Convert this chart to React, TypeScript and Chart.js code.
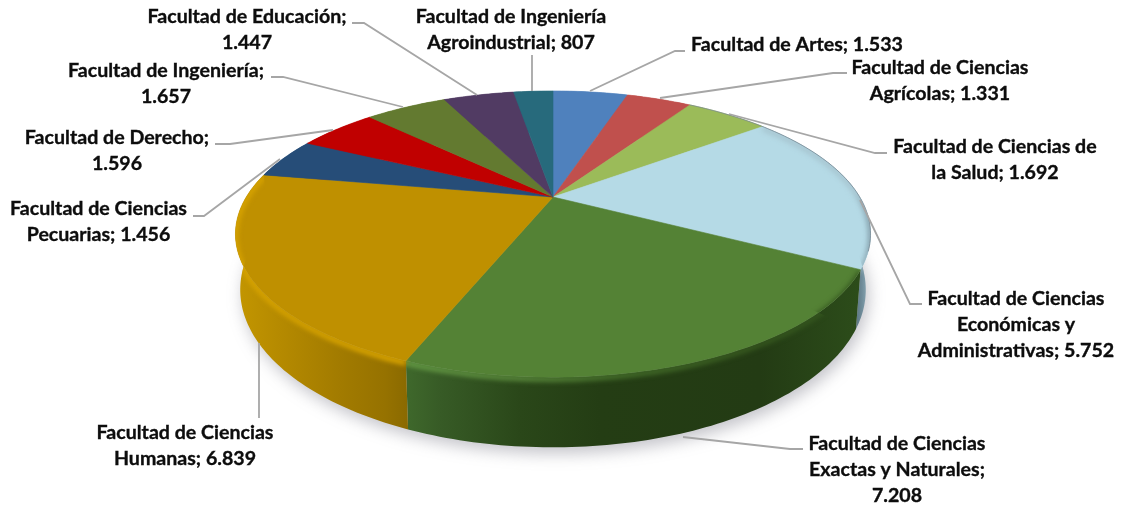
import React, { useEffect, useRef } from "react";
import { Chart, registerables } from "chart.js";

Chart.register(...registerables);

const categories = [
  "Facultad de Artes",
  "Facultad de Ciencias Agrícolas",
  "Facultad de Ciencias de la Salud",
  "Facultad de Ciencias Económicas y Administrativas",
  "Facultad de Ciencias Exactas y Naturales",
  "Facultad de Ciencias Humanas",
  "Facultad de Ciencias Pecuarias",
  "Facultad de Derecho",
  "Facultad de Ingeniería",
  "Facultad de Educación",
  "Facultad de Ingeniería Agroindustrial",
];
const values = [1533, 1331, 1692, 5752, 7208, 6839, 1456, 1596, 1657, 1447, 807];
const colors = [
  "#4F81BD", "#C0504D", "#9BBB59", "#B5DAE6", "#548235", "#BF9000",
  "#264D78", "#C00000", "#637A30", "#513B63", "#276A7C",
];

// Word counts per line of every data label.
const labelWraps = [[5], [3, 2], [4, 3], [3, 2, 2], [3, 3, 1], [3, 2], [3, 2], [3, 1], [3, 1], [3, 1], [3, 2]];
// Label centre and first-line middle.
const labelAnchors = [
  [797, 45], [940, 68], [995, 147], [1016, 299], [897, 444], [185, 433],
  [98.5, 209], [117, 138], [166, 71], [247, 17], [511, 17],
];
// Leader-line polylines.
const leaderPaths = [
  [[685, 51], [675, 51], [590, 91]],
  [[847, 73], [833, 73], [660, 98]],
  [[887, 153], [875, 153], [729, 114]],
  [[922, 304], [910, 304], [860, 200]],
  [[803, 449], [790, 449], [683, 437]],
  [[259, 418], [259, 343]],
  [[193, 216], [204, 216], [280, 159]],
  [[215, 144], [230, 144], [333, 130]],
  [[271, 77], [283, 77], [403, 107]],
  [[352, 23], [364, 23], [477, 95]],
  [[532, 55], [532, 91]],
];
// Wall shading: [x, colour] stops for each slice that faces the viewer.
const wallStops: Record<number, [number, string][]> = {
  3: [[852, "#4E6672"], [862, "#6F8C9A"], [871, "#9AB8C4"]],
  4: [[410, "#3E672B"], [440, "#375B26"], [520, "#2A4719"], [600, "#243D14"], [760, "#233B14"], [858, "#2C4C1A"]],
  5: [[240, "#C29500"], [280, "#B58A00"], [340, "#A27B00"], [385, "#967200"], [412, "#886800"]],
};
const rimStops: Record<number, [number, string][]> = {
  3: [[855, "#A6C4CF"], [871, "#7F9AA6"]],
  4: [[410, "#689F47"], [520, "#5E8F3F"], [620, "#47722C"], [760, "#37591F"], [858, "#34561F"]],
  5: [[236, "#D9A500"], [300, "#D8A400"], [412, "#E6AE00"]],
};

const view = { cx: 553, cy: 197, radius: 306.7, tilt: 133.5, persp: 0.259, depth: 52, shrink: 0.985 };

function top(theta: number) {
  const x = Math.sin(theta), y = Math.cos(theta);
  const s = 1 / (1 + view.persp * y);
  return { x: view.cx + view.radius * x * s, y: view.cy - view.tilt * y * s, s };
}
function bottom(theta: number) {
  const p = top(theta);
  return { x: view.cx + (p.x - view.cx) * view.shrink, y: p.y + view.depth * p.s };
}
function samples(a: number, b: number) {
  const n = Math.max(2, Math.ceil(Math.abs(b - a) / (Math.PI / 180)));
  const out: number[] = [];
  for (let i = 0; i <= n; i++) out.push(a + ((b - a) * i) / n);
  return out;
}
function grad(ctx: CanvasRenderingContext2D, stops: [number, string][]) {
  const x0 = stops[0][0], x1 = stops[stops.length - 1][0];
  const g = ctx.createLinearGradient(x0, 0, x1, 0);
  stops.forEach(([x, c]) => g.addColorStop((x - x0) / (x1 - x0), c));
  return g;
}

const pie3d = {
  id: "pie3d",
  beforeDatasetsDraw(chart: any) {
    const ctx: CanvasRenderingContext2D = chart.ctx;
    const arcs = chart.getDatasetMeta(0).data;
    const angles = arcs.map((a: any) => [a.startAngle + Math.PI / 2, a.endAngle + Math.PI / 2]);
    const full = samples(0, Math.PI * 2);

    // soft shadow beneath the disc
    ctx.save();
    ctx.filter = "blur(8px)";
    ctx.fillStyle = "rgba(90,90,105,0.36)";
    ctx.beginPath();
    full.forEach((t, i) => {
      const p = bottom(t);
      const px = p.x + 3, py = p.y + 6;
      i ? ctx.lineTo(px, py) : ctx.moveTo(px, py);
    });
    ctx.closePath();
    ctx.fill();
    ctx.restore();

    // walls
    angles.forEach(([a, b]: number[], i: number) => {
      ctx.beginPath();
      const ts = samples(a, b);
      ts.forEach((t, k) => {
        const p = top(t);
        k ? ctx.lineTo(p.x, p.y) : ctx.moveTo(p.x, p.y);
      });
      ts.slice().reverse().forEach((t) => {
        const p = bottom(t);
        ctx.lineTo(p.x, p.y);
      });
      ctx.closePath();
      ctx.fillStyle = wallStops[i] ? grad(ctx, wallStops[i]) : colors[i];
      ctx.fill();
    });

    // top face
    angles.forEach(([a, b]: number[], i: number) => {
      ctx.beginPath();
      ctx.moveTo(view.cx, view.cy);
      samples(a, b).forEach((t) => {
        const p = top(t);
        ctx.lineTo(p.x, p.y);
      });
      ctx.closePath();
      ctx.fillStyle = colors[i];
      ctx.fill();
      ctx.strokeStyle = colors[i];
      ctx.lineWidth = 0.6;
      ctx.stroke();
    });

    // bevel along the front rim
    angles.forEach(([a, b]: number[], i: number) => {
      if (!rimStops[i]) return;
      const ts = samples(a, b);
      ctx.save();
      ctx.beginPath();
      ctx.moveTo(view.cx, view.cy);
      ts.forEach((t) => {
        const p = top(t);
        ctx.lineTo(p.x, p.y);
      });
      ts.slice().reverse().forEach((t) => {
        const p = bottom(t);
        ctx.lineTo(p.x, p.y);
      });
      ctx.closePath();
      ctx.clip();
      ctx.filter = "blur(2.6px)";
      ctx.strokeStyle = grad(ctx, rimStops[i]);
      ctx.lineWidth = 5;
      ctx.beginPath();
      ts.forEach((t, k) => {
        const p = top(t);
        const py = p.y + 2;
        k ? ctx.lineTo(p.x, py) : ctx.moveTo(p.x, py);
      });
      ctx.stroke();
      ctx.restore();
    });

    // thin grey edge on the back-right rim
    ctx.strokeStyle = "rgba(120,135,145,0.75)";
    ctx.lineWidth = 1;
    ctx.beginPath();
    samples(angles[2][0], angles[3][1] - 0.12).forEach((t, k) => {
      const p = top(t);
      k ? ctx.lineTo(p.x, p.y) : ctx.moveTo(p.x, p.y);
    });
    ctx.stroke();

    return false;
  },
  afterDraw(chart: any) {
    const ctx: CanvasRenderingContext2D = chart.ctx;
    ctx.save();
    ctx.strokeStyle = "#A6A6A6";
    ctx.lineWidth = 1.8;
    leaderPaths.forEach((path) => {
      ctx.beginPath();
      path.forEach(([x, y], k) => (k ? ctx.lineTo(x, y) : ctx.moveTo(x, y)));
      ctx.stroke();
    });
    ctx.font = 'bold 19.6px Lato';
    ctx.fillStyle = "#0D0D0D";
    ctx.strokeStyle = "#0D0D0D";
    ctx.lineWidth = 0.35;
    ctx.textAlign = "center";
    ctx.textBaseline = "middle";
    categories.forEach((cat, i) => {
      const shown = String(values[i]).replace(/\B(?=(\d{3})+$)/g, ".");
      const words = `${cat}; ${shown}`.split(" ");
      let w = 0;
      labelWraps[i].forEach((count, line) => {
        const text = words.slice(w, w + count).join(" ");
        w += count;
        const x = labelAnchors[i][0], y = labelAnchors[i][1] + line * 26;
        ctx.fillText(text, x, y);
        ctx.strokeText(text, x, y);
      });
    });
    ctx.restore();
  },
};

export default function App() {
  const ref = useRef<HTMLCanvasElement>(null);
  useEffect(() => {
    const chart = new Chart(ref.current!, {
      type: "pie",
      data: { labels: categories, datasets: [{ data: values, backgroundColor: colors, borderWidth: 0 }] },
      options: {
        animation: false,
        responsive: false,
        plugins: { legend: { display: false }, tooltip: { enabled: false } },
      },
      plugins: [pie3d],
    } as any);
    return () => chart.destroy();
  }, []);
  return (
    <div style={{ position: "absolute", left: 0, top: 0, width: 1123, height: 510, background: "#fff" }}>
      <canvas ref={ref} width={1123} height={510} style={{ display: "block" }} />
    </div>
  );
}
